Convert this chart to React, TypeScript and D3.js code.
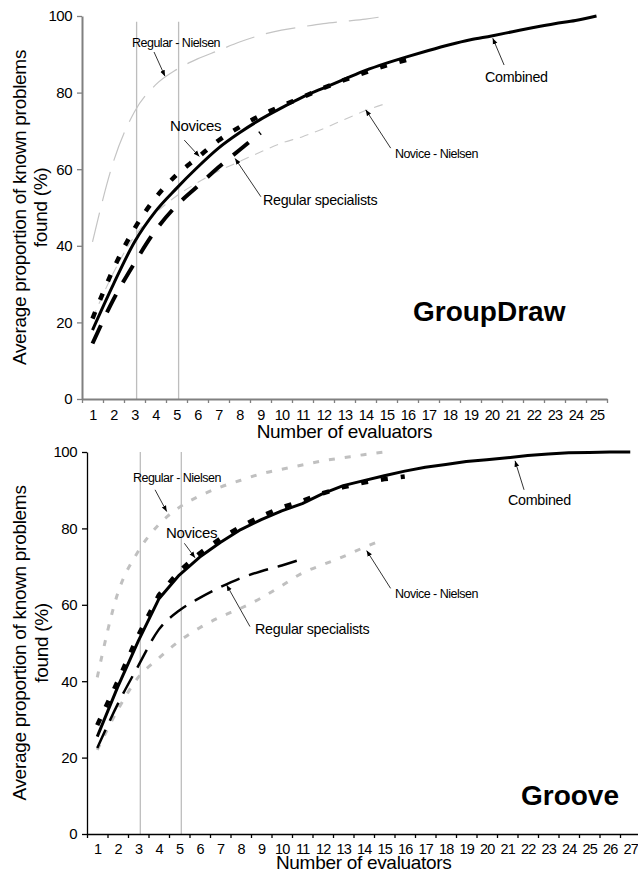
import React, { useEffect, useRef } from "react";
import * as d3 from "d3";

const yTicks = [0, 20, 40, 60, 80, 100];
const refLines = [3.1, 5.1];

// GroupDraw (average % of known problems found, per number of evaluators)
const gdCombined = [18, 30, 41, 49, 55, 60.5, 65.5, 69.5, 73, 76, 78.8, 81.2, 83.5, 85.8, 87.7, 89.4, 91, 92.5, 93.8, 94.8, 95.9, 97, 98, 98.8, 100];
const gdNovices = [21, 34, 44.5, 52.5, 58.5, 63, 67.5, 71, 74, 76.5, 78.8, 81.2, 83.3, 85.3, 87.1, 88.6];
const gdRegular = [14.5, 26, 35.5, 44, 50.5, 55.5, 60.5, 65, 69.5];
const gdRegNielsen = [41, 62, 75, 82, 86, 88.8, 91, 93.2, 95, 96.3, 97.2, 98, 98.6, 99.2, 100];
const gdNovNielsen = [21, 33, 42.5, 48.5, 53, 56.5, 59.5, 62, 64.5, 66.8, 68.5, 70.6, 73, 75.3, 77.2];

// Groove
const grCombined = [25.5, 38.5, 50.5, 61.5, 67.8, 72.5, 76.3, 79.7, 82.3, 84.6, 86.5, 89.1, 91.2, 92.5, 93.8, 95, 96, 96.7, 97.5, 98, 98.5, 99.1, 99.5, 99.8, 99.9, 100, 100];
const grNovices = [28.5, 40, 52, 62.5, 68.8, 73.5, 77.3, 80.5, 83.2, 85.5, 87.2, 89.2, 90.8, 92, 92.9, 93.6];
const grRegular = [22.5, 34, 44, 53.5, 58.5, 61.8, 64.6, 67, 68.8, 70.3, 72];
const grRegNielsen = [41, 63, 74, 81, 85.5, 88.5, 90.8, 92.6, 94.3, 95.5, 96.6, 97.7, 98.5, 99.3, 100];
const grNovNielsen = [22, 32.5, 41, 46, 50.5, 54, 56.8, 59.1, 61.8, 65, 68.3, 70.5, 72.6, 75, 77.2];

// annotation labels: [label, textN, textV, arrowFromN, arrowFromV, arrowToN, arrowToV]
const gdNotes: [string, number, number, number, number, number, number][] = [
  ["Regular - Nielsen", 2.88, 91.9, 3.93, 90.6, 4.45, 84.3],
  ["Novices", 4.69, 70, 5.37, 67.6, 6.09, 63.3],
  ["Regular specialists", 9.12, 50.7, 9.02, 52.8, 7.79, 62.8],
  ["Combined", 19.69, 82.8, 20.6, 87.2, 20.06, 94.2],
  ["Novice - Nielsen", 15.4, 62.9, 15.2, 65.5, 14.01, 75.5],
];
const grNotes: [string, number, number, number, number, number, number][] = [
  ["Regular - Nielsen", 2.74, 92.1, 3.82, 90.1, 4.39, 84.4],
  ["Novices", 4.35, 77.5, 5.25, 76.1, 5.77, 72.3],
  ["Regular specialists", 8.7, 52.4, 8.45, 54.3, 7.31, 65.2],
  ["Combined", 21.04, 86.1, 21.82, 90.1, 21.38, 97.7],
  ["Novice - Nielsen", 15.52, 61.8, 15.31, 64.3, 14.14, 74.2],
];

const FONT = "'Liberation Sans', Arial, sans-serif";

type Series = { values: number[]; color: string; width: number; dash: string | null; smooth: boolean };
type Panel = {
  name: string; nameN: number; nameV: number;
  n: number; left: number; right: number; top: number; bottom: number;
  axisColor: string; axisWidth: number; refTop: number; titleGap: number; labelPad: number; ylab: [number, number];
  series: Series[]; notes: typeof gdNotes;
};

const panels: Panel[] = [
  {
    name: "GroupDraw", nameN: 16.26, nameV: 20.4,
    n: 25, left: 82, right: 607, top: 16, bottom: 399,
    axisColor: "#808080", axisWidth: 2, refTop: 98.5, titleGap: 39, labelPad: 11, ylab: [26, 47],
    series: [
      { values: gdRegNielsen, color: "#c4c4c4", width: 1.2, dash: "30,12", smooth: true },
      { values: gdNovNielsen, color: "#c8c8c8", width: 1.1, dash: "9,7", smooth: true },
      { values: gdRegular, color: "#000", width: 4, dash: "20,14", smooth: true },
      { values: gdNovices, color: "#000", width: 4.5, dash: "7,13", smooth: true },
      { values: gdCombined, color: "#000", width: 3, dash: null, smooth: true },
    ],
    notes: gdNotes,
  },
  {
    name: "Groove", nameN: 21.67, nameV: 7.6,
    n: 27, left: 87, right: 640.5, top: 452, bottom: 834,
    axisColor: "#000", axisWidth: 1.3, refTop: 100, titleGap: 35, labelPad: 10, ylab: [26, 48],
    series: [
      { values: grRegNielsen, color: "#c0c0c0", width: 3, dash: "6,10", smooth: true },
      { values: grNovNielsen, color: "#c0c0c0", width: 3, dash: "6,10", smooth: true },
      { values: grRegular, color: "#000", width: 2.5, dash: "20,10", smooth: true },
      { values: grNovices, color: "#000", width: 4.5, dash: "7,13", smooth: false },
      { values: grCombined, color: "#000", width: 3, dash: null, smooth: false },
    ],
    notes: grNotes,
  },
];

const App: React.FC = () => {
  const svgRef = useRef<SVGSVGElement | null>(null);

  useEffect(() => {
    if (!svgRef.current) return;
    const svg = d3.select(svgRef.current);
    svg.selectAll("*").remove();

    svg
      .append("defs")
      .append("marker")
      .attr("id", "arrow")
      .attr("viewBox", "0 0 10 10")
      .attr("refX", 10)
      .attr("refY", 5)
      .attr("markerWidth", 6)
      .attr("markerHeight", 6)
      .attr("markerUnits", "userSpaceOnUse")
      .attr("orient", "auto")
      .append("path")
      .attr("d", "M0,1 L10,5 L0,9 z")
      .attr("fill", "#000");

    panels.forEach((p) => {
      const x = d3.scaleLinear().domain([0.5, p.n + 0.5]).range([p.left, p.right]);
      const y = d3.scaleLinear().domain([0, 100]).range([p.bottom, p.top]);
      const g = svg.append("g");

      // vertical reference lines
      refLines.forEach((v) => {
        g.append("line")
          .attr("x1", x(v))
          .attr("x2", x(v))
          .attr("y1", y(0))
          .attr("y2", y(p.refTop))
          .attr("stroke", "#bdbdbd")
          .attr("stroke-width", 1.3);
      });

      // curves
      p.series.forEach((s) => {
        const line = d3
          .line<number>()
          .x((_, i) => x(i + 1))
          .y((d) => y(d))
          .curve(s.smooth ? d3.curveMonotoneX : d3.curveLinear);
        g.append("path")
          .attr("d", line(s.values))
          .attr("fill", "none")
          .attr("stroke", s.color)
          .attr("stroke-width", s.width)
          .attr("stroke-dasharray", s.dash)
          .attr("stroke-linejoin", "round");
      });

      // y axis
      const ya = g
        .append("g")
        .attr("transform", `translate(${p.left},0)`)
        .call(d3.axisLeft(y).tickValues(yTicks).tickSize(5).tickSizeOuter(0).tickPadding(5));
      ya.select(".domain").attr("stroke", p.axisColor).attr("stroke-width", p.axisWidth);
      ya.selectAll(".tick line").attr("stroke", p.axisColor).attr("stroke-width", 1.3);
      ya.selectAll("text").attr("font-size", 15).attr("font-family", FONT).attr("fill", "#000").attr("letter-spacing", -0.5);

      // x axis: ticks between categories, labels at centres
      const xa = g
        .append("g")
        .attr("transform", `translate(0,${p.bottom})`)
        .call(
          d3.axisBottom(x)
            .tickValues(d3.range(0.5, p.n + 1, 1))
            .tickSize(4)
            .tickSizeOuter(0)
            .tickFormat(() => "")
        );
      xa.select(".domain").attr("stroke", p.axisColor).attr("stroke-width", p.axisWidth);
      xa.selectAll(".tick line").attr("stroke", p.axisColor).attr("stroke-width", 1.3);

      const xl = g
        .append("g")
        .attr("transform", `translate(0,${p.bottom})`)
        .call(d3.axisBottom(x).tickValues(d3.range(1, p.n + 1)).tickSize(0).tickPadding(p.labelPad).tickFormat(d3.format("d")));
      xl.select(".domain").remove();
      xl.selectAll("text").attr("font-size", 14.5).attr("font-family", FONT).attr("fill", "#000").attr("letter-spacing", -0.7);

      // axis titles
      const midX = (p.left + p.right) / 2;
      const midY = (p.top + p.bottom) / 2;
      g.append("text")
        .attr("x", midX)
        .attr("y", p.bottom + p.titleGap)
        .attr("text-anchor", "middle")
        .attr("font-family", FONT)
        .attr("font-size", 19)
        .attr("letter-spacing", -0.3)
        .text("Number of evaluators");
      g.append("text")
        .attr("transform", `translate(${p.ylab[0]},${midY}) rotate(-90)`)
        .attr("text-anchor", "middle")
        .attr("font-family", FONT)
        .attr("font-size", 19)
        .attr("letter-spacing", -0.3)
        .text("Average proportion of known problems");
      g.append("text")
        .attr("transform", `translate(${p.ylab[1]},${midY}) rotate(-90)`)
        .attr("text-anchor", "middle")
        .attr("font-family", FONT)
        .attr("font-size", 19)
        .attr("letter-spacing", -0.3)
        .text("found (%)");

      // panel name
      g.append("text")
        .attr("x", x(p.nameN))
        .attr("y", y(p.nameV))
        .attr("font-family", FONT)
        .attr("font-weight", "bold")
        .attr("font-size", 28)
        .text(p.name);

      // annotations
      p.notes.forEach(([label, tn, tv, fn, fv, an, av]) => {
        const small = label.includes("Nielsen");
        g.append("text")
          .attr("x", x(tn))
          .attr("y", y(tv))
          .attr("font-family", FONT)
          .attr("font-size", small ? 12.5 : label === "Novices" ? 15 : 14.3)
          .attr("letter-spacing", small ? -0.5 : -0.3)
          .text(label);
        g.append("line")
          .attr("x1", x(fn))
          .attr("y1", y(fv))
          .attr("x2", x(an))
          .attr("y2", y(av))
          .attr("stroke", "#000")
          .attr("stroke-width", 0.8)
          .attr("marker-end", "url(#arrow)");
      });
    });
  }, []);

  return (
    <svg
      ref={svgRef}
      width={638}
      height={873}
      style={{ position: "absolute", left: 0, top: 0, background: "#fff" }}
    ></svg>
  );
};

export default App;
